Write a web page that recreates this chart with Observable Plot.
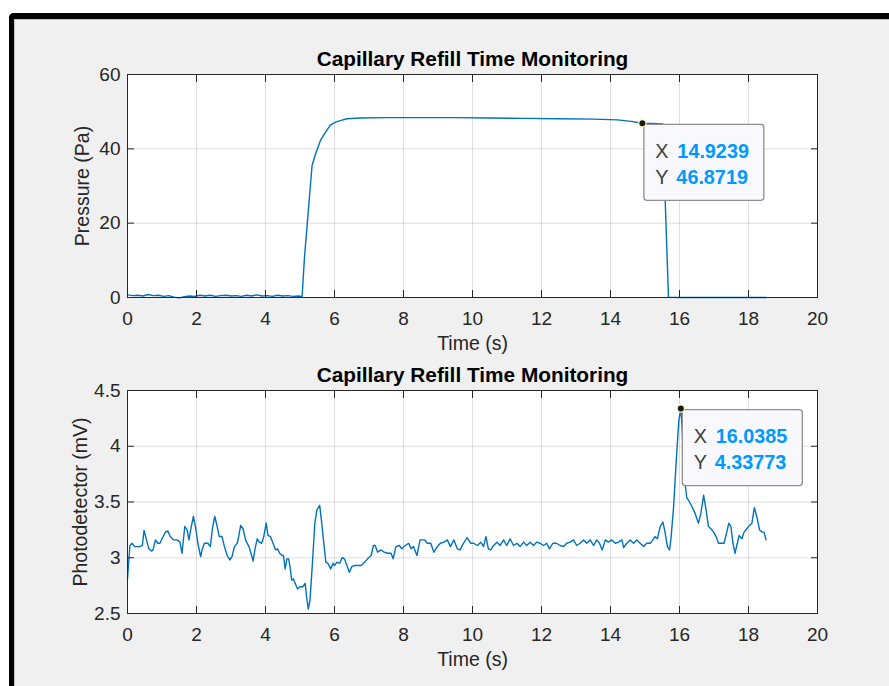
<!DOCTYPE html>
<html><head><meta charset="utf-8">
<script src="https://cdn.jsdelivr.net/npm/d3@7"></script>
<script src="https://cdn.jsdelivr.net/npm/@observablehq/plot@0.6"></script>
<style>
html,body{margin:0;padding:0;background:#fff;}
#fig{position:relative;width:889px;height:686px;overflow:hidden;background:#fff;font-family:"Liberation Sans",Arial,sans-serif;}
#frame{position:absolute;left:9px;top:13px;width:920px;height:720px;border-left:5px solid #000;border-top:6px solid #000;border-top-left-radius:5px;background:#f0f0f0;box-shadow:inset 1px 1px 0 #c0c0c0;}
.p{position:absolute;left:0;}
</style></head><body><div id="fig"><div id="frame"></div></div>
<script>
// ---- data ----
const title = "Capillary Refill Time Monitoring";
const xLabel = "Time (s)";
const xTicks = [0, 2, 4, 6, 8, 10, 12, 14, 16, 18, 20];
const pressureTicks = [0, 20, 40, 60];
const photoTicks = [2.5, 3, 3.5, 4, 4.5];

const pressureSamples = [
  [0,0.7],[0.15,0.5],[0.3,0.6],[0.45,0.4],[0.6,0.8],[0.75,0.5],[0.9,0.6],[1.05,0.3],[1.2,0.5],[1.35,0.1],
  [1.5,-0.1],[1.65,0.2],[1.8,0.4],[1.95,0.3],[2.1,0.6],[2.25,0.4],[2.4,0.6],[2.55,0.3],[2.7,0.5],[2.85,0.6],
  [3.0,0.4],[3.15,0.5],[3.3,0.3],[3.45,0.6],[3.6,0.4],[3.75,0.7],[3.9,0.4],[4.05,0.5],[4.2,0.3],[4.35,0.6],
  [4.5,0.4],[4.65,0.5],[4.8,0.3],[4.95,0.4],[5.06,0.2],[5.13,10.8],[5.21,19.8],[5.29,28.8],[5.35,35.5],
  [5.45,38.6],[5.59,42.2],[5.74,44.5],[5.88,46.4],[6.03,47.2],[6.17,47.6],[6.36,48.1],[6.75,48.3],
  [7.5,48.4],[8.5,48.4],[9.5,48.4],[10.5,48.3],[11.5,48.2],[12.5,48.1],[13.5,48.0],[14.2,47.8],
  [14.6,47.4],[14.9239,46.8719],[15.2,46.8],[15.51,46.7],[15.68,0.1],[16,0],[17,0],[18,0],[18.52,0]
];

const photoSamples = [
  [0,2.81],[0.07,3.11],[0.13,3.13],[0.21,3.10],[0.28,3.10],[0.36,3.10],[0.43,3.11],[0.48,3.245],[0.55,3.16],
  [0.62,3.08],[0.69,3.06],[0.74,3.07],[0.81,3.16],[0.88,3.13],[0.94,3.13],[1.0,3.17],[1.10,3.23],[1.17,3.24],
  [1.24,3.19],[1.34,3.16],[1.44,3.16],[1.52,3.14],[1.58,3.04],[1.61,3.13],[1.66,3.28],[1.73,3.25],[1.78,3.16],
  [1.83,3.25],[1.91,3.37],[1.97,3.28],[2.04,3.13],[2.12,3.01],[2.16,3.07],[2.23,3.13],[2.33,3.13],[2.40,3.10],
  [2.47,3.28],[2.53,3.37],[2.60,3.28],[2.66,3.19],[2.74,3.19],[2.81,3.10],[2.89,3.02],[2.97,2.98],[3.03,3.01],
  [3.10,3.10],[3.18,3.13],[3.23,3.20],[3.28,3.29],[3.35,3.26],[3.42,3.16],[3.52,3.10],[3.58,3.04],[3.64,2.97],
  [3.69,3.07],[3.76,3.17],[3.82,3.14],[3.89,3.13],[3.95,3.19],[4.02,3.31],[4.07,3.20],[4.14,3.19],[4.22,3.13],
  [4.29,3.07],[4.35,3.08],[4.41,3.04],[4.48,3.02],[4.52,3.02],[4.57,2.90],[4.62,2.99],[4.67,2.99],[4.71,2.92],
  [4.76,2.80],[4.81,2.81],[4.86,2.77],[4.93,2.72],[5.00,2.74],[5.08,2.74],[5.15,2.77],[5.19,2.65],[5.24,2.54],
  [5.29,2.62],[5.36,2.95],[5.43,3.31],[5.49,3.43],[5.57,3.47],[5.62,3.34],[5.69,3.13],[5.75,2.96],[5.81,2.95],
  [5.89,2.90],[5.96,2.95],[6.00,2.93],[6.07,2.96],[6.15,2.95],[6.22,3.00],[6.29,2.99],[6.36,2.93],[6.43,2.87],
  [6.50,2.92],[6.57,2.93],[6.67,2.93],[6.77,2.93],[6.87,2.96],[6.96,2.99],[7.06,3.02],[7.13,3.11],[7.18,3.11],
  [7.25,3.05],[7.35,3.07],[7.44,3.05],[7.54,3.04],[7.64,3.04],[7.70,2.99],[7.78,3.10],[7.88,3.11],[7.95,3.08],
  [8.05,3.11],[8.15,3.13],[8.22,3.08],[8.29,3.10],[8.39,3.02],[8.48,3.16],[8.55,3.16],[8.62,3.16],[8.69,3.13],
  [8.79,3.13],[8.88,3.05],[8.98,3.10],[9.07,3.13],[9.17,3.14],[9.27,3.16],[9.36,3.10],[9.46,3.16],[9.56,3.08],
  [9.64,3.07],[9.74,3.13],[9.84,3.18],[9.95,3.13],[10.03,3.13],[10.14,3.11],[10.24,3.14],[10.32,3.10],[10.39,3.19],
  [10.46,3.08],[10.53,3.07],[10.61,3.11],[10.71,3.14],[10.80,3.11],[10.90,3.16],[10.99,3.11],[11.09,3.17],
  [11.19,3.11],[11.29,3.13],[11.38,3.10],[11.48,3.14],[11.57,3.11],[11.67,3.14],[11.77,3.11],[11.86,3.14],
  [11.96,3.13],[12.06,3.11],[12.15,3.13],[12.23,3.08],[12.33,3.13],[12.43,3.13],[12.54,3.11],[12.64,3.10],
  [12.73,3.13],[12.83,3.14],[12.93,3.16],[13.02,3.11],[13.12,3.13],[13.22,3.16],[13.31,3.13],[13.41,3.16],
  [13.51,3.11],[13.60,3.16],[13.68,3.13],[13.76,3.07],[13.85,3.16],[13.94,3.14],[14.04,3.16],[14.14,3.13],
  [14.23,3.14],[14.33,3.16],[14.38,3.09],[14.47,3.13],[14.57,3.16],[14.67,3.13],[14.76,3.16],[14.86,3.13],
  [14.96,3.10],[15.05,3.13],[15.15,3.13],[15.23,3.16],[15.29,3.19],[15.36,3.17],[15.44,3.28],[15.52,3.32],
  [15.58,3.23],[15.65,3.10],[15.71,3.07],[15.75,3.16],[15.83,3.46],[15.90,3.84],[15.98,4.23],[16.0385,4.33773],
  [16.08,4.14],[16.14,3.72],[16.21,3.54],[16.29,3.50],[16.36,3.46],[16.45,3.40],[16.55,3.31],[16.62,3.40],
  [16.70,3.56],[16.77,3.43],[16.84,3.28],[16.91,3.26],[16.99,3.23],[17.06,3.19],[17.13,3.13],[17.20,3.13],
  [17.29,3.13],[17.37,3.23],[17.43,3.31],[17.49,3.28],[17.55,3.13],[17.61,3.04],[17.66,3.11],[17.73,3.20],
  [17.81,3.17],[17.87,3.23],[17.95,3.26],[18.03,3.29],[18.10,3.31],[18.17,3.45],[18.24,3.37],[18.32,3.25],
  [18.39,3.23],[18.45,3.23],[18.51,3.16]
];

const pressureTip = {x: 14.9239, y: 46.8719, xText: "14.9239", yText: "46.8719"};
const photoTip = {x: 16.0385, y: 4.33773, xText: "16.0385", yText: "4.33773"};

// ---- drawing ----
const FONT = "'Liberation Sans', Arial, Helvetica, sans-serif";
const INK = "#262626";
const LINE = "#0072BD";

function tipBox(tip) {
  return (index, scales) => {
    const r = d3.create("svg:rect")
      .attr("x", scales.x(tip.x) + 2)
      .attr("y", scales.y(tip.y) + 1.5)
      .attr("width", 120).attr("height", 76).attr("rx", 3)
      .attr("fill", "#f9f9fd").attr("stroke", "#8f8f8f").attr("stroke-width", 1.3);
    return r.node();
  };
}

function panel({samples, yDomain, yTicks, yLabel, ylabelDx, tip, height, marginTop, marginBottom}) {
  const data = samples.map(([t, v]) => ({t, v}));
  const fmt = d => String(d);
  return Plot.plot({
    width: 889, height, marginTop, marginBottom, marginLeft: 127, marginRight: 72,
    style: {background: "transparent", fontFamily: FONT, fontSize: "19px", color: INK, overflow: "visible"},
    x: {domain: [0, 20]},
    y: {domain: yDomain},
    marks: [
      Plot.frame({fill: "white", stroke: "none"}),
      Plot.gridX(xTicks, {stroke: INK, strokeOpacity: 0.15}),
      Plot.gridY(yTicks, {stroke: INK, strokeOpacity: 0.15}),
      Plot.line(data, {x: "t", y: "v", stroke: LINE, strokeWidth: 1.4}),
      Plot.frame({stroke: INK, strokeWidth: 1}),
      Plot.axisX(xTicks, {anchor: "bottom", tickSize: -7, tickPadding: 21, tickFormat: fmt, label: null, fill: INK, stroke: INK, fontSize: 19}),
      Plot.axisX(xTicks, {anchor: "top", tickSize: -7, tickFormat: () => "", label: null, stroke: INK}),
      Plot.axisY(yTicks, {anchor: "left", tickSize: -7, tickPadding: 14, tickFormat: fmt, label: null, fill: INK, stroke: INK, fontSize: 19}),
      Plot.axisY(yTicks, {anchor: "right", tickSize: -7, tickFormat: () => "", label: null, stroke: INK}),
      Plot.text([title], {text: d => d, frameAnchor: "top", dy: -15.5, lineAnchor: "middle", fontWeight: "bold", fontSize: 20.8, fill: "#000"}),
      Plot.text([xLabel], {text: d => d, frameAnchor: "bottom", dy: 46, lineAnchor: "middle", fontSize: 19.5, fill: INK}),
      Plot.text([yLabel], {text: d => d, frameAnchor: "left", dx: ylabelDx, rotate: -90, textAnchor: "middle", lineAnchor: "middle", fontSize: 19.5, fill: INK}),
      tipBox(tip),
      Plot.dot([tip], {x: "x", y: "y", r: 3.6, fill: "#1a1a1a", stroke: "#fff9b0", strokeWidth: 1.2}),
      Plot.text([tip], {x: "x", y: "y", text: () => "X", dx: 13, dy: 34.5, lineAnchor: "bottom", textAnchor: "start", fontSize: 19.8, fill: "#404040"}),
      Plot.text([tip], {x: "x", y: "y", text: "xText", dx: 35, dy: 34.5, lineAnchor: "bottom", textAnchor: "start", fontSize: 19.8, fontWeight: "bold", fill: "#0099ff"}),
      Plot.text([tip], {x: "x", y: "y", text: () => "Y", dx: 13, dy: 60.5, lineAnchor: "bottom", textAnchor: "start", fontSize: 19.8, fill: "#404040"}),
      Plot.text([tip], {x: "x", y: "y", text: "yText", dx: 34, dy: 60.5, lineAnchor: "bottom", textAnchor: "start", fontSize: 19.8, fontWeight: "bold", fill: "#0099ff"})
    ]
  });
}

const fig = document.getElementById("fig");
const top1 = panel({samples: pressureSamples, yDomain: [0, 60], yTicks: pressureTicks, yLabel: "Pressure (Pa)", ylabelDx: -45,
  tip: pressureTip, height: 360, marginTop: 74, marginBottom: 63});
top1.classList.add("p"); top1.style.top = "0px";
fig.appendChild(top1);
const bot = panel({samples: photoSamples, yDomain: [2.5, 4.5], yTicks: photoTicks, yLabel: "Photodetector (mV)", ylabelDx: -47,
  tip: photoTip, height: 326, marginTop: 30, marginBottom: 73});
bot.classList.add("p"); bot.style.top = "360px";
fig.appendChild(bot);
</script></body></html>
